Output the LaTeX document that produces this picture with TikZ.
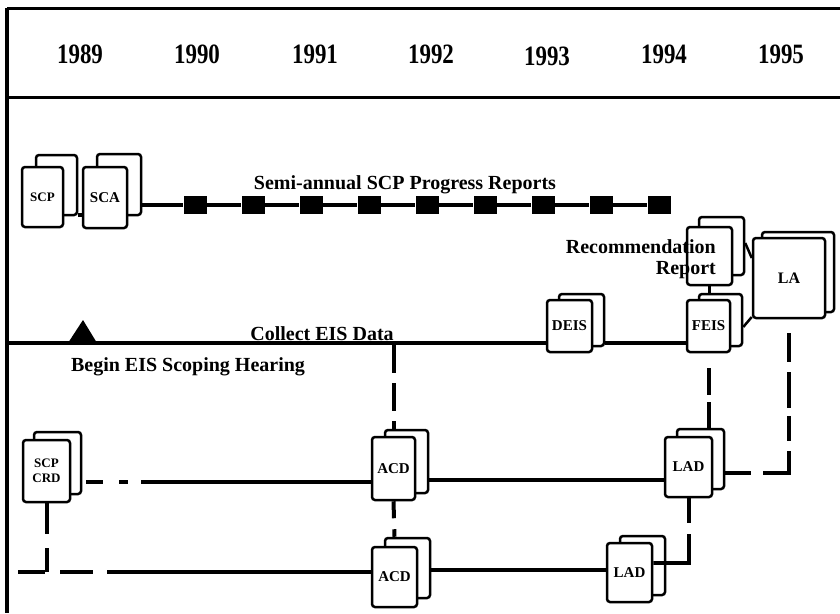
\documentclass[tikz,border=0pt]{standalone}
\usepackage{fontspec}
\setmainfont{Liberation Serif}
\usepackage{graphicx}
\usetikzlibrary{shadows,calc}
\tikzset{
  lbl/.style={font=\fontsize{20}{22}\selectfont\bfseries, inner sep=0pt, anchor=base},
  yr/.style={font=\fontsize{28}{29}\selectfont\bfseries, inner sep=0pt, anchor=base},
  doc/.style args={#1/#2/#3/#4}{draw, fill=white, line width=2.5pt, rounded corners=3pt,
    minimum width=#1pt, minimum height=#2pt, inner sep=0pt, align=center,
    font=\fontsize{15}{13}\selectfont\bfseries,
    general shadow={shadow xshift=#3pt, shadow yshift=#4pt, draw=black, fill=white,
      line width=2.5pt, rounded corners=3pt}},
  sq/.style={fill=black, minimum width=23pt, minimum height=18pt, inner sep=0pt},
  ln/.style={line width=4pt},
  dl/.style={line width=4pt, dash pattern=on 28pt off 10pt},
  frameline/.style={line width=3pt}
}
\begin{document}
\begin{tikzpicture}[x=1pt,y=-1pt]
\useasboundingbox (0,0) rectangle (840,613);
% frame
\draw[frameline] (7,8) -- (840,8);
\draw[frameline] (7,97) -- (840,97);
\draw[line width=4pt] (7,8) -- (7,613);
% years
\node[yr] (y89) at (80,63) {\scalebox{0.82}[1]{1989}};
\node[yr] (y90) at (197,63) {\scalebox{0.82}[1]{1990}};
\node[yr] (y91) at (315,63) {\scalebox{0.82}[1]{1991}};
\node[yr] (y92) at (431,63) {\scalebox{0.82}[1]{1992}};
\node[yr] (y93) at (547,65) {\scalebox{0.82}[1]{1993}};
\node[yr] (y94) at (664,63) {\scalebox{0.82}[1]{1994}};
\node[yr] (y95) at (781,63) {\scalebox{0.82}[1]{1995}};
% SCP / SCA
\node[doc=41/60/14/12, font=\fontsize{13}{13}\selectfont\bfseries] (scp) at (42.5,197) {SCP};
\node[doc=44/61/14/13] (sca) at (105,197.5) {SCA};
\draw[ln] (scp.east) ++(14,18) -- (sca.west |- 0,215);
% progress reports
\foreach \i/\x in {1/195,2/253,3/311,4/369,5/427,6/485,7/543,8/601,9/659}
  \node[sq] (s\i) at (\x,205) {};
\draw[ln] (sca.east |- s1) ++(14,0) -- (s1);
\draw[ln] (s1) -- (s2) -- (s3) -- (s4) -- (s5) -- (s6) -- (s7) -- (s8) -- (s9);
\node[lbl] (semi) at (405,189) {Semi-annual SCP Progress Reports};
% EIS line
\node[doc=45/52/12/6] (deis) at (569.5,326) {DEIS};
\node[doc=43/52/12/6] (feis) at (708.5,326) {FEIS};
\node[doc=45/58/12/10] (rec) at (709.5,256) {};
\node[doc=72/80/9/6, font=\fontsize{16}{16}\selectfont\bfseries] (la) at (789,278) {LA};
\node[lbl, anchor=base east] (rec1) at (716,253) {Recommendation};
\node[lbl, anchor=base east] (rec2) at (716,274) {Report};
\draw[line width=2.5pt] (rec.south) -- (rec.south |- 0,293);
\draw[line width=2.5pt] (rec.east |- 0,243) ++(12,0) -- (la.west |- 0,258);
\draw[line width=2.5pt] (feis.east |- 0,327) ++(12,0) -- (la.west |- 0,317);
\coordinate (lft) at (7,343);
\draw[ln] (lft) -- (deis.west |- 0,343);
\draw[ln] (deis.east |- 0,343) ++(12,0) -- (feis.west |- 0,343);
\fill (83,320) -- (68,343) -- (97,343) -- cycle;
\node[lbl] (coll) at (322,340) {Collect EIS Data};
\node[lbl] (begin) at (188,371) {Begin EIS Scoping Hearing};
% lower documents
\node[doc=47/62/11/8, font=\fontsize{13}{15}\selectfont\bfseries] (crd) at (46.5,471) {SCP\\CRD};
\node[doc=43/63/13/7] (acd1) at (393.5,468.5) {ACD};
\node[doc=47/60/12/8] (lad1) at (688.5,467) {LAD};
\node[doc=45/60/13/9] (acd2) at (394.5,577) {ACD};
\node[doc=45/59/13/7] (lad2) at (629.5,572.5) {LAD};
% connectors
\draw[dl] (acd1.north |- 0,345) -- ([yshift=7pt]acd1.north);
\draw[ln, dash pattern=on 17pt off 11pt] (acd1.south) -- ([yshift=9pt]acd2.north);
\draw[ln, dash pattern=on 17pt off 16pt on 9pt off 13pt on 400pt] (crd.east |- 0,482) ++(15,0) -- (acd1.west |- 0,482);
\draw[ln] (acd1.east |- 0,480) ++(13,0) -- (lad1.west |- 0,480);
\draw[ln, dash pattern=on 27pt off 7pt on 40pt] (feis.south |- 0,368) -- (feis.south |- 0,428);
\draw[ln, dash pattern=on 26pt off 12pt on 48pt off 10pt on 25pt off 8pt on 36pt off 10pt on 29pt off 40pt]
  (lad1.east |- 0,473) ++(12,0) -- (la.south |- 0,473) -- (la.south);
\draw[ln, dash pattern=on 25pt off 11pt on 80pt] (lad1.south) -- (lad1.south |- 0,563) -- (lad2.east |- 0,563) -- ++(13,0);
\draw[ln] (acd2.east |- 0,570) ++(13,0) -- (lad2.west |- 0,570);
\draw[ln, dash pattern=on 31pt off 14pt on 40pt] (crd.south) -- (crd.south |- 0,572);
\coordinate (bl) at (18,572);
\draw[ln, dash pattern=on 27pt off 15pt on 33pt off 14pt on 400pt] (bl) -- (acd2.west |- 0,572);
\end{tikzpicture}
\end{document}
